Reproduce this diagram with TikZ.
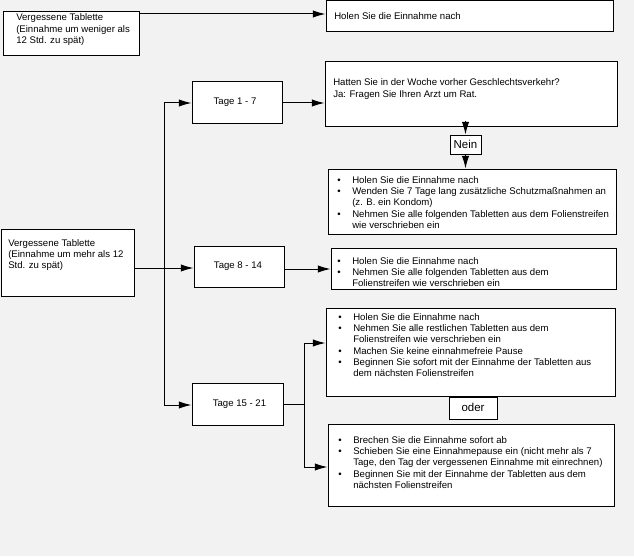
\documentclass[tikz,border=0pt]{standalone}
\usepackage{fontspec}
\setmainfont{Liberation Sans}
\usetikzlibrary{fit,arrows.meta}
\definecolor{bgc}{HTML}{F2F2F2}
\newcommand\bul{\makebox[11.25pt][l]{\textbullet}}
\newcommand\cnt{\hspace*{11.25pt}}
\tikzset{
  box/.style={draw=black, fill=white, line width=0.75pt, inner sep=0pt,
              font=\fontsize{7.2}{8.5}\selectfont},
  txt/.style={anchor=north west, inner sep=0pt, align=left,
              font=\fontsize{7.2}{8.5}\selectfont},
  big/.style={font=\fontsize{8.6}{10}\selectfont},
  ln/.style={line width=0.75pt},
  arr/.style={line width=0.75pt, -{Latex[length=9.5pt,width=5.5pt]}},
}
\begin{document}
\begin{tikzpicture}[x=0.75pt,y=-0.75pt]
\useasboundingbox (0,0) rectangle (634,556);
\fill[bgc] (0,0) rectangle (634,556);

% top row
\node[box, fit={(3,12) (139,56)}] (b1) {};
\node[txt] (b1t) at (16,13.5) {Vergessene Tablette\\(Einnahme um weniger als\\12 Std. zu spät)};
\node[box, fit={(326,1) (613,32)}] (b2) {};
\node[txt] (b2t) at (334,12) {Holen Sie die Einnahme nach};

% left main box
\node[box, fit={(1,229) (134,296)}] (b4) {};
\node[txt] (b4t) at (8,239) {Vergessene Tablette\\(Einnahme um mehr als 12\\Std. zu spät)};

% day boxes
\node[box, fit={(192,82) (282,124)}] (t1) {};
\node[txt, anchor=center] (t1t) at (235,102.5) {Tage 1 - 7};
\node[box, fit={(194,246) (284,287)}] (t2) {};
\node[txt, anchor=center] (t2t) at (238,266) {Tage 8 - 14};
\node[box, fit={(192,383) (283,425)}] (t3) {};
\node[txt, anchor=center] (t3t) at (239.5,404) {Tage 15 - 21};

% question box
\node[box, fit={(325,62) (617,127)}] (q) {};
\node[txt, font=\fontsize{7.2}{9}\selectfont] (qt) at (333,78) {Hatten Sie in der Woche vorher Geschlechtsverkehr?\\Ja: Fragen Sie Ihren Arzt um Rat.};

\node[box, big, fit={(450,135) (481,154)}] (nein) {};
\node[big, inner sep=0pt] (neint) at (465.5,144.5) {Nein};

\node[box, fit={(328,169) (616,234)}] (bb1) {};
\node[txt] (bb1t) at (337,176) {\bul Holen Sie die Einnahme nach\\
\bul Wenden Sie 7 Tage lang zusätzliche Schutzmaßnahmen an\\
\cnt (z. B. ein Kondom)\\
\bul Nehmen Sie alle folgenden Tabletten aus dem Folienstreifen\\
\cnt wie verschrieben ein};

\node[box, fit={(331,248) (616,289)}] (bb2) {};
\node[txt] (bb2t) at (337,257) {\bul Holen Sie die Einnahme nach\\
\bul Nehmen Sie alle folgenden Tabletten aus dem\\
\cnt Folienstreifen wie verschrieben ein};

\node[box, fit={(326,308) (615,396)}] (bb3) {};
\node[txt] (bb3t) at (338,313) {\bul Holen Sie die Einnahme nach\\
\bul Nehmen Sie alle restlichen Tabletten aus dem\\
\cnt Folienstreifen wie verschrieben ein\\
\bul Machen Sie keine einnahmefreie Pause\\
\bul Beginnen Sie sofort mit der Einnahme der Tabletten aus\\
\cnt dem nächsten Folienstreifen};

\node[box, fit={(449,397) (497,419)}] (oder) {};
\node[big, inner sep=0pt] (odert) at (473,407.5) {oder};

\node[box, fit={(328,424) (614,506)}] (bb4) {};
\node[txt] (bb4t) at (338,436) {\bul Brechen Sie die Einnahme sofort ab\\
\bul Schieben Sie eine Einnahmepause ein (nicht mehr als 7\\
\cnt Tage, den Tag der vergessenen Einnahme mit einrechnen)\\
\bul Beginnen Sie mit der Einnahme der Tabletten aus dem\\
\cnt nächsten Folienstreifen};

% connectors
\coordinate (bA) at (164,103);
\coordinate (bB) at (164,405);
\coordinate (cA) at (304,343);
\coordinate (cB) at (304,467);
\coordinate (cM) at (304,404);
\coordinate (qs) at (465.5,121);

\draw[arr] (b1.east |- 0,14) -- (b2.west |- 0,14);
\draw[ln] (bA) -- (bB);
\draw[arr] (bA) -- (bA -| t1.west);
\draw[arr] (bB) -- (bB -| t3.west);
\draw[arr] (b4.east |- 0,268) -- (t2.west |- 0,268);
\draw[arr] (t1.east) -- (t1.east -| q.west);
\draw[arr] (t2.east |- 0,269) -- (bb2.west |- 0,269);
\draw[arr] (qs) -- (nein.north);
\draw[arr] (nein.south) -- (nein.south |- bb1.north);
\draw[ln] (t3.east |- cM) -- (cM);
\draw[ln] (cA) -- (cB);
\draw[arr] (cA) -- (cA -| bb3.west);
\draw[arr] (cB) -- (cB -| bb4.west);
\end{tikzpicture}
\end{document}
